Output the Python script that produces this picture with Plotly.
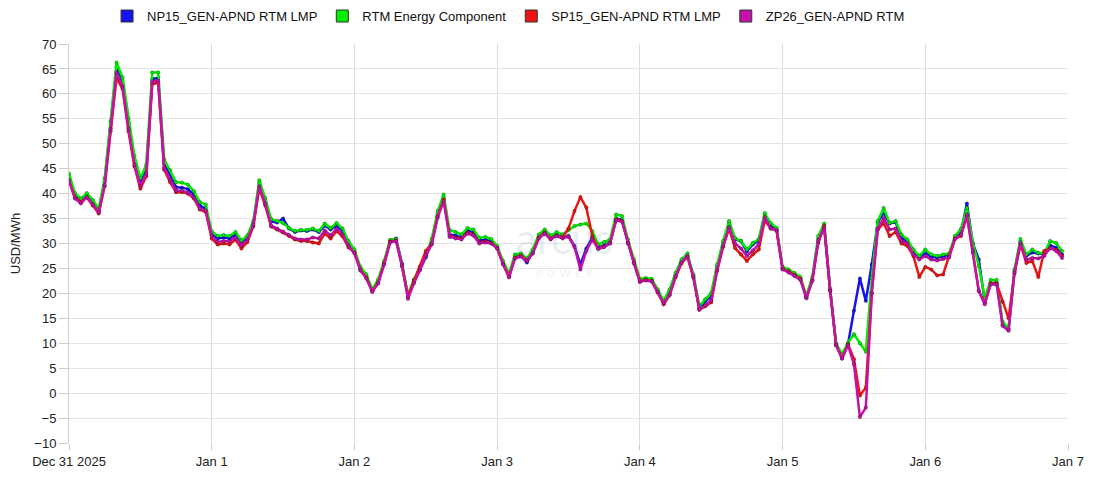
import plotly.graph_objects as go
import pandas as pd

start_time = "2025-12-31 00:00"

rtm_energy = [
    44.0, 40.1, 39.0, 40.1, 38.7, 37.0, 43.1, 54.5, 66.3, 63.3, 55.1, 47.6, 43.1, 45.8, 64.3, 64.3, 46.9, 44.7, 42.3, 42.2, 41.8, 40.5, 38.3, 37.8,
    32.4, 31.5, 31.7, 31.5, 32.3, 30.6, 31.6, 34.5, 42.7, 39.1, 34.9, 34.5, 34.1, 33.1, 32.5, 32.7, 32.7, 33.0, 32.5, 34.0, 33.1, 34.1, 33.0, 30.5,
    28.8, 25.3, 23.8, 20.8, 22.8, 26.5, 30.7, 30.9, 25.8, 19.8, 22.8, 25.3, 27.5, 30.9, 36.5, 39.8, 32.7, 32.3, 31.8, 33.1, 32.8, 31.1, 31.3, 30.9,
    29.5, 26.5, 24.0, 27.8, 28.0, 27.0, 28.8, 31.8, 32.8, 31.6, 32.3, 31.8, 32.7, 33.5, 33.8, 34.0, 32.5, 29.8, 30.3, 30.8, 35.8, 35.5, 30.8, 26.8,
    22.9, 23.1, 22.9, 20.8, 18.5, 20.8, 24.1, 26.8, 28.0, 23.8, 17.5, 18.8, 20.1, 25.8, 30.5, 34.5, 31.1, 30.5, 28.8, 30.1, 30.9, 36.1, 34.1, 33.1,
    25.3, 24.8, 24.1, 23.3, 19.5, 23.3, 31.5, 34.0, 20.9, 10.0, 7.8, 10.1, 11.8, 10.0, 8.3, 23.1, 34.5, 37.1, 34.1, 34.5, 31.8, 30.8, 28.8, 27.5,
    28.8, 27.8, 27.5, 27.8, 28.0, 31.5, 32.9, 37.1, 30.1, 25.5, 19.1, 22.7, 22.7, 14.3, 13.0, 24.8, 30.9, 27.8, 28.8, 28.1, 28.1, 30.5, 30.1, 28.5,
]

np15_lmp = [
    43.6, 39.6, 38.6, 39.6, 38.2, 36.5, 42.5, 53.8, 65.5, 62.5, 54.3, 46.8, 42.2, 44.8, 63.0, 63.2, 46.0, 43.6, 41.3, 41.2, 40.9, 39.8, 37.6, 37.0,
    32.0, 31.0, 31.2, 31.0, 31.8, 30.2, 31.2, 34.0, 42.2, 38.6, 34.4, 34.2, 35.0, 33.0, 32.3, 32.6, 32.5, 32.8, 32.3, 33.6, 32.8, 33.6, 32.6, 30.2,
    28.5, 25.0, 23.4, 20.6, 22.5, 26.2, 30.6, 31.0, 26.0, 19.3, 22.3, 24.8, 27.2, 30.5, 36.0, 39.2, 31.8, 31.6, 31.2, 32.6, 32.2, 30.6, 30.7, 30.5,
    29.2, 26.0, 23.5, 27.3, 27.5, 26.2, 28.3, 31.3, 32.2, 31.0, 31.8, 31.2, 31.5, 29.5, 25.8, 29.0, 31.2, 29.2, 29.6, 30.3, 35.0, 34.8, 30.2, 26.3,
    22.5, 22.8, 22.6, 20.5, 18.2, 20.3, 23.7, 26.4, 27.6, 23.5, 17.0, 18.4, 19.4, 25.4, 30.1, 34.2, 30.8, 30.5, 28.4, 29.8, 30.6, 35.8, 33.5, 32.8,
    25.0, 24.5, 23.8, 23.0, 19.2, 22.8, 31.0, 33.8, 20.7, 9.8, 7.4, 9.8, 16.5, 23.0, 18.5, 25.8, 34.2, 36.2, 34.0, 34.3, 31.2, 30.2, 28.2, 27.0,
    28.2, 27.3, 27.2, 27.4, 27.7, 31.2, 32.3, 38.0, 30.0, 26.8, 18.3, 22.0, 22.2, 13.8, 12.7, 24.5, 30.5, 27.5, 28.2, 28.0, 27.8, 29.6, 29.2, 27.8,
]

sp15_lmp = [
    42.5, 39.2, 38.3, 39.2, 37.6, 36.0, 41.5, 52.5, 63.2, 61.0, 52.5, 45.5, 41.0, 43.5, 62.0, 62.2, 44.8, 42.3, 40.3, 40.3, 40.0, 39.0, 36.8, 36.3,
    31.0, 29.8, 30.0, 29.8, 30.8, 29.0, 30.3, 33.4, 41.0, 37.6, 33.4, 32.8, 32.2, 31.5, 30.8, 30.5, 30.5, 30.2, 30.0, 32.0, 31.0, 32.5, 31.4, 29.2,
    28.2, 24.7, 23.2, 20.4, 22.2, 26.0, 30.4, 30.6, 25.4, 19.5, 22.6, 25.3, 28.5, 30.0, 35.5, 38.8, 31.5, 31.2, 31.0, 32.2, 31.8, 30.2, 30.4, 30.1,
    29.1, 25.9, 23.4, 27.1, 27.6, 26.6, 28.1, 31.2, 32.2, 31.0, 31.6, 31.2, 33.0, 36.5, 39.3, 37.2, 31.5, 29.0, 29.4, 30.1, 34.8, 34.5, 30.1, 26.2,
    22.4, 22.7, 22.5, 20.2, 17.8, 19.6, 23.2, 26.0, 27.3, 23.2, 16.7, 17.4, 18.2, 24.5, 29.3, 33.0, 29.1, 27.8, 26.5, 27.8, 28.8, 34.6, 33.0, 32.6,
    24.9, 24.4, 23.7, 22.9, 19.1, 22.6, 30.1, 33.5, 20.6, 9.6, 7.0, 9.8, 6.8, -0.5, 1.1, 20.1, 32.7, 34.1, 31.5, 32.3, 30.0, 29.5, 27.5, 23.3,
    25.3, 24.8, 23.6, 23.8, 27.5, 31.0, 31.5, 35.5, 28.1, 20.5, 18.0, 22.0, 22.0, 18.3, 15.0, 24.0, 29.8, 26.1, 26.5, 23.3, 28.5, 29.0, 28.8, 27.5,
]

zp26_rtm = [
    42.7, 39.0, 38.0, 39.3, 37.8, 36.2, 41.7, 53.0, 64.3, 61.5, 53.0, 45.8, 41.5, 44.0, 62.5, 62.7, 45.2, 42.8, 40.6, 40.6, 40.2, 39.2, 37.0, 36.6,
    31.5, 30.3, 30.5, 30.4, 31.2, 29.6, 30.8, 33.8, 41.5, 38.0, 33.6, 33.0, 32.4, 31.7, 31.0, 30.8, 30.8, 31.2, 31.0, 32.6, 31.6, 33.0, 31.8, 29.6,
    28.0, 24.6, 23.0, 20.3, 22.0, 25.8, 30.2, 30.5, 25.6, 18.9, 22.0, 24.6, 27.6, 29.8, 35.2, 38.5, 31.3, 31.0, 30.8, 32.0, 31.6, 30.0, 30.2, 30.0,
    29.0, 25.8, 23.2, 27.0, 27.4, 26.5, 28.0, 31.0, 32.0, 30.8, 31.5, 31.0, 31.4, 29.3, 24.8, 28.5, 30.8, 28.9, 29.3, 30.0, 34.6, 34.4, 30.0, 26.0,
    22.3, 22.6, 22.4, 20.3, 18.0, 19.8, 23.4, 26.2, 27.5, 23.3, 16.8, 17.6, 18.6, 24.8, 29.5, 33.3, 30.0, 29.0, 27.5, 28.6, 29.8, 35.3, 33.0, 32.6,
    24.8, 24.2, 23.5, 22.7, 19.0, 22.5, 30.6, 33.1, 20.5, 9.6, 6.9, 9.6, 5.8, -4.8, -2.9, 20.0, 33.0, 35.1, 32.8, 33.0, 30.5, 30.0, 27.8, 26.8,
    27.5, 26.8, 26.6, 26.9, 27.2, 30.9, 31.8, 35.8, 28.6, 20.5, 17.8, 21.8, 21.8, 13.5, 12.5, 24.2, 30.1, 26.7, 27.1, 27.0, 27.5, 29.1, 28.5, 27.1,
]

series_names = ["NP15_GEN-APND RTM LMP", "RTM Energy Component", "SP15_GEN-APND RTM LMP", "ZP26_GEN-APND RTM"]
series_colors = ["#1414f0", "#00ee00", "#ee1414", "#c412a8"]

tick_dates = ["2025-12-31", "2026-01-01", "2026-01-02", "2026-01-03", "2026-01-04", "2026-01-05", "2026-01-06", "2026-01-07"]
tick_labels = ["Dec 31 2025", "Jan 1", "Jan 2", "Jan 3", "Jan 4", "Jan 5", "Jan 6", "Jan 7"]

times = pd.date_range(start_time, periods=len(rtm_energy), freq="h")
series_values = [np15_lmp, rtm_energy, sp15_lmp, zp26_rtm]

fig = go.Figure()
for name, vals, col in zip(series_names, series_values, series_colors):
    fig.add_trace(go.Scatter(
        x=times, y=vals, mode="lines+markers", name=name, legendgroup=name,
        showlegend=False,
        line=dict(color=col, width=2.5),
        marker=dict(size=3.5, color=col, line=dict(color="rgba(0,0,0,0.45)", width=0.6)),
    ))
for name, col in zip(series_names, series_colors):
    fig.add_trace(go.Bar(
        x=[None], y=[None], name=name, legendgroup=name, showlegend=True,
        marker=dict(color=col, line=dict(color="#333333", width=1)),
    ))

font_family = "Liberation Sans, Arial, sans-serif"

fig.update_layout(
    width=1100, height=500,
    margin=dict(l=61, r=40, t=36, b=65, autoexpand=False),
    paper_bgcolor="white", plot_bgcolor="white",
    font=dict(family=font_family, size=13, color="#222222"),
    showlegend=True,
    legend=dict(orientation="h", x=0.44, xanchor="center", y=1.07, yanchor="middle",
                font=dict(size=13, color="#111111"), itemwidth=30,
                bgcolor="rgba(0,0,0,0)", traceorder="normal"),
    xaxis=dict(
        type="date",
        range=["2025-12-31 00:00", "2026-01-07 00:00"],
        tickvals=tick_dates, ticktext=tick_labels,
        showgrid=True, gridcolor="#dcdcdc", gridwidth=1,
        zeroline=False, showline=False,
        ticks="outside", ticklen=6, tickcolor="#cccccc",
        tickfont=dict(size=13, color="#222222"),
    ),
    yaxis=dict(
        range=[-10, 70], dtick=5, tick0=0,
        showgrid=True, gridcolor="#e4e4e4", gridwidth=1,
        zeroline=False, showline=True, linecolor="#d0d0d0",
        ticks="outside", ticklen=9, tickcolor="#cccccc",
        tickfont=dict(size=13, color="#222222"),
        title=dict(text="USD/MWh", font=dict(size=13, color="#222222"), standoff=24),
    ),
    hovermode="x unified",
)

# faint watermark
fig.add_annotation(xref="paper", yref="paper", x=0.496, y=0.515, text="arcus",
                   showarrow=False, font=dict(size=42, color="rgba(70,120,170,0.13)", family="Lato, sans-serif"))
fig.add_annotation(xref="paper", yref="paper", x=0.496, y=0.425, text="P  O  W  E  R",
                   showarrow=False, font=dict(size=10, color="rgba(70,120,170,0.13)", family="Lato, sans-serif"))

fig.write_html("out.html")
